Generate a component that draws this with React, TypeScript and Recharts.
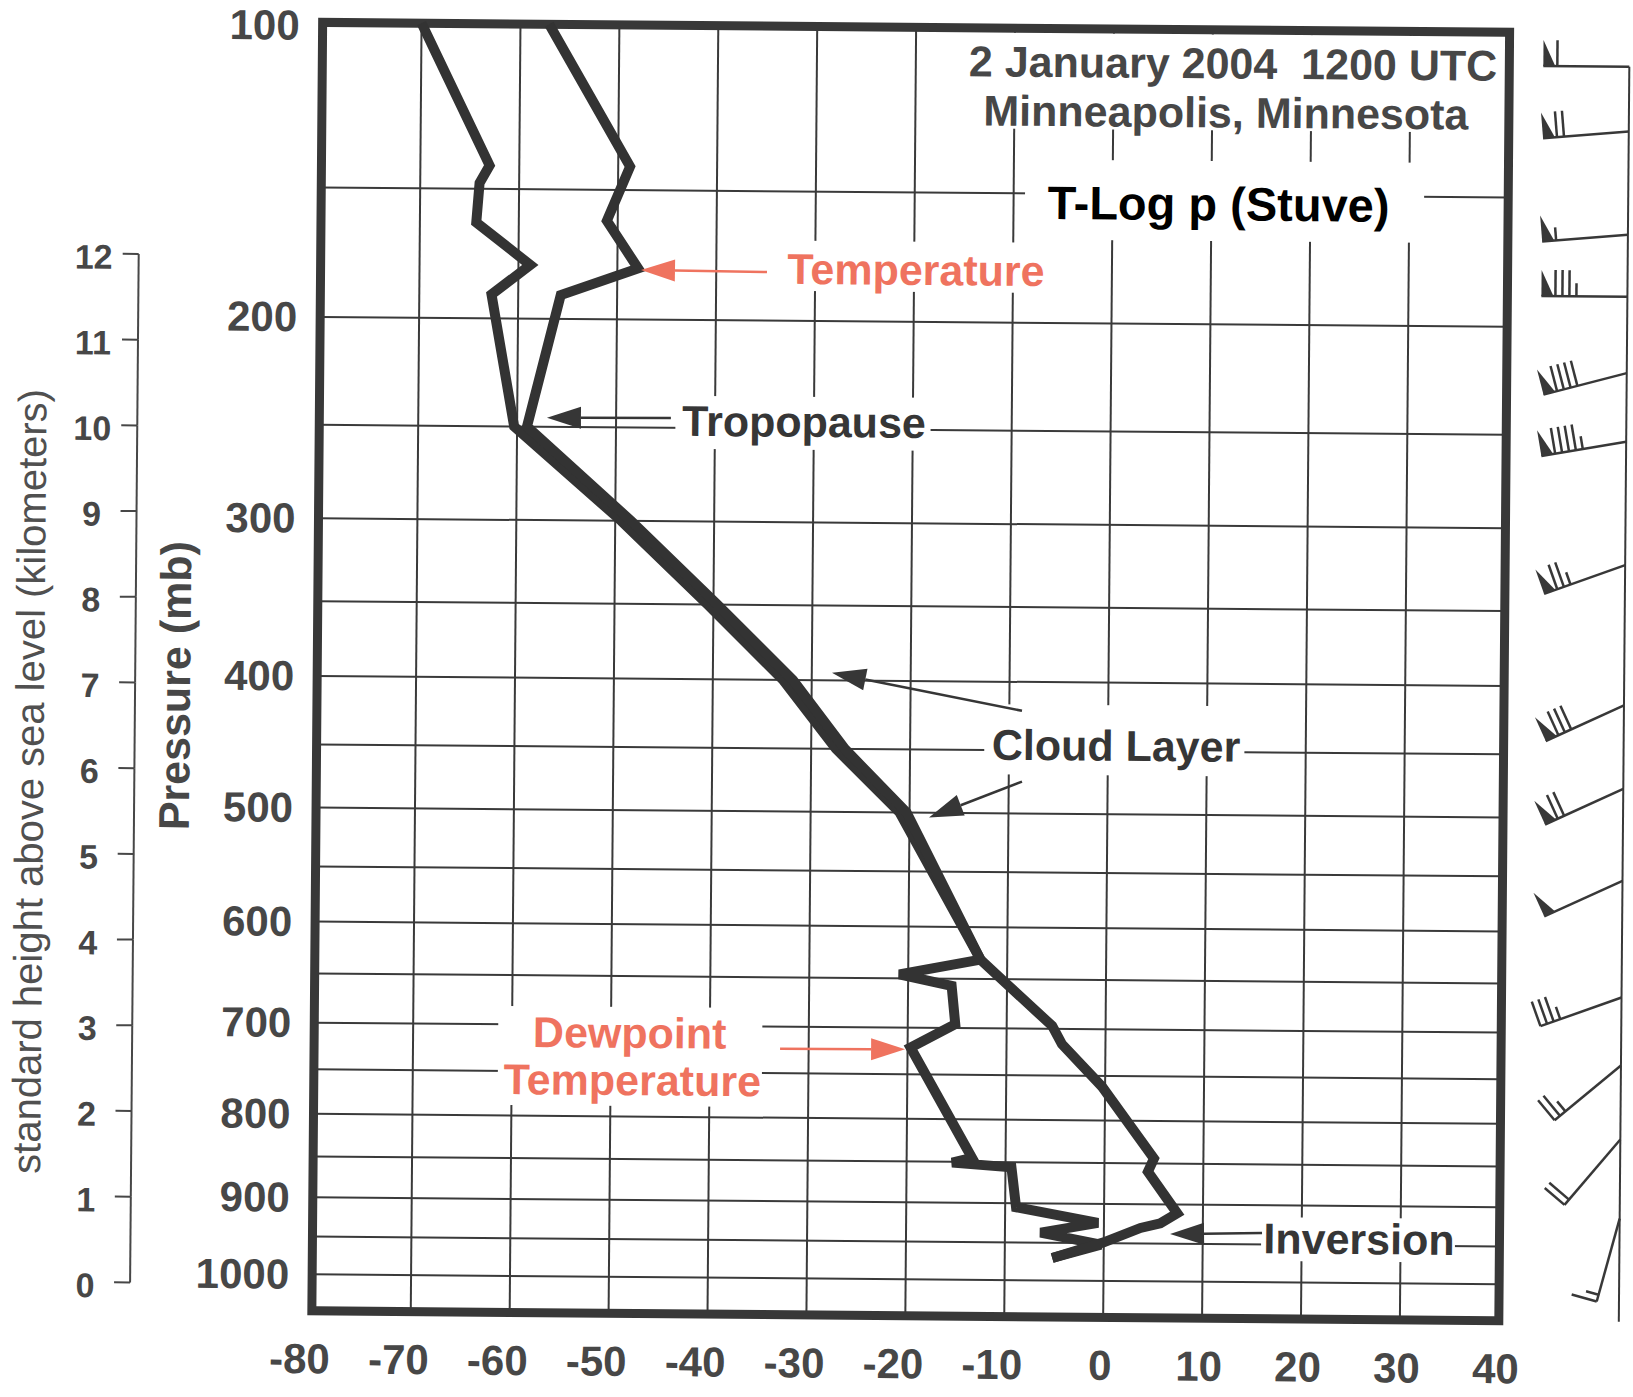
import React from "react";
import {
  ComposedChart,
  Line,
  Scatter,
  XAxis,
  YAxis,
  CartesianGrid,
  ReferenceArea,
  ReferenceLine,
  ReferenceDot,
} from "recharts";

// Stuve diagram: the vertical coordinate is p^kappa
const KAPPA = 0.286;
const toY = (p: number) => Math.pow(p, KAPPA);
const fromY = (v: number) => Math.pow(v, 1 / KAPPA);

// sounding (mb / deg C)
const TEMP_P = [100, 142, 161, 179, 190, 250, 300, 350, 400, 450, 500, 631, 654, 697, 716, 762, 844, 860, 911, 924, 930, 949, 970];
const TEMP_C = [-57.1, -48.8, -51.1, -47.9, -55.7, -59.0, -48.4, -39.6, -31.9, -26.6, -20.3, -12.7, -10.1, -5.4, -4.4, -0.3, 5.0, 4.4, 7.4, 5.7, 3.7, 0.0, -5.2];
const DEW_P = [100, 142, 148, 162, 178, 190, 250, 300, 350, 400, 450, 500, 631, 646, 657, 696, 721, 845, 851, 856, 905, 924, 937, 952, 970];
const DEW_C = [-70.0, -63.0, -64.0, -64.3, -58.8, -62.7, -60.3, -49.4, -40.6, -32.9, -27.5, -21.0, -12.7, -20.9, -15.6, -15.2, -19.7, -13.4, -15.4, -9.4, -8.9, -0.6, -6.4, -0.3, -5.2];

// winds (mb / deg / kt)
const WIND_P = [109, 128, 163, 187, 220, 253, 321, 413, 476, 553, 663, 734, 817, 913];
const WIND_DIR = [270, 265, 265, 270, 255, 260, 250, 245, 245, 245, 250, 230, 220, 195];
const WIND_KT = [60, 70, 55, 85, 90, 95, 75, 80, 70, 50, 35, 25, 20, 15];

// axes
const T_MIN = -80;
const T_MAX = 40;
const P_TOP = 100;
const P_BOTTOM = 1050;
const TEMP_TICKS = [-80, -70, -60, -50, -40, -30, -20, -10, 0, 10, 20, 30, 40];
const GRID_P = [100, 150, 200, 250, 300, 350, 400, 450, 500, 550, 600, 650, 700, 750, 800, 850, 900, 950, 1000];
const KM_TICKS = [0, 1, 2, 3, 4, 5, 6, 7, 8, 9, 10, 11, 12];
const KM0_P = 1013; // where the 0 km mark sits
const KM12_P = 175; // where the 12 km mark sits

// annotations (data units)
const SALMON = "#ef735f";
const DARK = "#363636";
const GRAY = "#474747";

const BOXES = [
  { t1: -16.5, t2: 39.5, p1: 101.2, p2: 128.7 },
  { t1: -8.85, t2: 31.5, p1: 138.5, p2: 166.6 },
  { t1: -34.1, t2: -6.1, p1: 167.8, p2: 187.5 },
  { t1: -44.0, t2: -18.2, p1: 234.3, p2: 260.6 },
  { t1: -12.5, t2: 13.8, p1: 416, p2: 468.8 },
  { t1: 15.9, t2: 35.5, p1: 915, p2: 971.5 },
  { t1: -61.4, t2: -34.7, p1: 681, p2: 788 },
];

const NOTES = [
  { text: "2 January 2004  1200 UTC", t: 12.07, p: 109.0, color: GRAY, size: 43 },
  { text: "Minneapolis, Minnesota", t: 11.39, p: 123.2, color: GRAY, size: 43 },
  { text: "T-Log p (Stuve)", t: 10.72, p: 153.1, color: "#000", size: 47 },
  { text: "Temperature", t: -19.81, p: 178.7, color: SALMON, size: 43 },
  { text: "Tropopause", t: -31.0, p: 246.5, color: DARK, size: 43 },
  { text: "Cloud Layer", t: 0.82, p: 445.9, color: DARK, size: 43 },
  { text: "Inversion", t: 25.8, p: 942, color: DARK, size: 43 },
  { text: "Dewpoint", t: -48.1, p: 708, color: SALMON, size: 43 },
  { text: "Temperature", t: -47.8, p: 759, color: SALMON, size: 43 },
];

const ARROWS = [
  { from: [-34.87, 180.0], to: [-47.61, 179.6], color: SALMON },
  { from: [-44.46, 245.2], to: [-56.99, 245.5], color: DARK },
  { from: [-8.72, 420.6], to: [-27.96, 394.8], color: DARK },
  { from: [-8.66, 474.3], to: [-18.03, 503.9], color: DARK },
  { from: [15.99, 935.3], to: [6.69, 937.6], color: DARK },
  { from: [-32.89, 723.6], to: [-20.25, 723.0], color: SALMON },
];

// layout
const W = 1633;
const H = 1397;
const PLOT_LEFT = 317;
const PLOT_TOP = 26.5;
const PLOT_RIGHT = 1504;
const PLOT_BOTTOM = 1315;
const P_AXIS_W = 200;
const X_AXIS_H = 60;
const FONT = "'Liberation Sans', Arial, Helvetica, sans-serif";
const INK = "#383838";

const kmAt = (p: number) => (12 * (toY(KM0_P) - toY(p))) / (toY(KM0_P) - toY(KM12_P));
const KM_DOMAIN = [kmAt(P_BOTTOM), kmAt(P_TOP)];
const KM_PX = (PLOT_BOTTOM - PLOT_TOP) / (KM_DOMAIN[1] - KM_DOMAIN[0]);
const KM_LINE_X = 135;

const BARB_DX = 120;
const STAFF = 86;
const BARB_LEN = 26;
const PENNANT_W = 12;
const BARB_GAP = 7;
const HEAD_LEN = 34;
const HEAD_HALF = 11;

const tempData = TEMP_P.map((p, i) => ({ t: TEMP_C[i], y: toY(p) }));
const dewData = DEW_P.map((p, i) => ({ t: DEW_C[i], y: toY(p) }));
const windData = WIND_P.map((p, i) => ({ t: T_MAX, y: toY(p), dir: WIND_DIR[i], kt: WIND_KT[i] }));

function PressureTick(props: any) {
  const { y, payload } = props;
  const p = Math.round(fromY(payload.value));
  if (p % 100 !== 0) return <g />;
  return (
    <text x={PLOT_LEFT - 23} y={p === P_TOP ? y + 3 : y} textAnchor="end" dominantBaseline="central" fontFamily={FONT} fontWeight="bold" fontSize={42} fill={GRAY}>
      {p}
    </text>
  );
}

function KmTick(props: any) {
  const { y, payload } = props;
  const v = payload.value;
  return (
    <g>
      <text x={90} y={y + 3} textAnchor="middle" dominantBaseline="central" fontFamily={FONT} fontWeight="bold" fontSize={34} fill={GRAY}>
        {v}
      </text>
      <line x1={KM_LINE_X - 16} y1={y} x2={KM_LINE_X} y2={y} stroke={GRAY} strokeWidth={2} />
      {v > 0 && <line x1={KM_LINE_X} y1={y} x2={KM_LINE_X} y2={y + KM_PX} stroke={GRAY} strokeWidth={2} />}
    </g>
  );
}

function TempTick(props: any) {
  const { x, payload } = props;
  const v = payload.value;
  return (
    <text x={x + (v < 0 ? -12 : -3)} y={PLOT_BOTTOM + 48} textAnchor="middle" dominantBaseline="central" fontFamily={FONT} fontWeight="bold" fontSize={42} fill={GRAY}>
      {v}
    </text>
  );
}

function PressureTitle() {
  return (
    <text transform="translate(190,691) rotate(-90)" textAnchor="middle" fontFamily={FONT} fontWeight="bold" fontSize={43} fill={GRAY}>
      Pressure (mb)
    </text>
  );
}

function HeightTitle() {
  return (
    <text transform="translate(44,788) rotate(-90)" textAnchor="middle" fontFamily={FONT} fontSize={40} fill="#505050">
      standard height above sea level (kilometers)
    </text>
  );
}

function WindBarb(props: any) {
  const { cx, cy, payload } = props;
  const rx = cx + BARB_DX;
  const a = (payload.dir * Math.PI) / 180;
  const ux = Math.sin(a);
  const uy = -Math.cos(a);
  const nx = -uy;
  const ny = ux;
  const tx = rx + ux * STAFF;
  const ty = cy + uy * STAFF;
  const at = (s: number, h: number) => [tx - ux * s + nx * h, ty - uy * s + ny * h];
  const parts: React.ReactNode[] = [];
  let kt = payload.kt;
  let s = 0;
  while (kt >= 50) {
    const p0 = at(s, 0);
    const p1 = at(s, BARB_LEN);
    const p2 = at(s + PENNANT_W, 0);
    parts.push(<polygon key={`f${s}`} points={`${p0} ${p1} ${p2}`} fill={INK} />);
    s += PENNANT_W + 2;
    kt -= 50;
  }
  while (kt >= 10) {
    const [x1, y1] = at(s, 0);
    const [x2, y2] = at(s, BARB_LEN);
    parts.push(<line key={`b${s}`} x1={x1} y1={y1} x2={x2} y2={y2} stroke={INK} strokeWidth={2.5} />);
    s += BARB_GAP;
    kt -= 10;
  }
  if (kt >= 5) {
    const [x1, y1] = at(s, 0);
    const [x2, y2] = at(s, BARB_LEN / 2);
    parts.push(<line key="h" x1={x1} y1={y1} x2={x2} y2={y2} stroke={INK} strokeWidth={2.5} />);
  }
  return (
    <g>
      <line x1={rx} y1={cy} x2={tx} y2={ty} stroke={INK} strokeWidth={2.5} />
      {parts}
    </g>
  );
}

function Arrow(props: any) {
  const { x1, y1, x2, y2, color } = props;
  const dx = x2 - x1;
  const dy = y2 - y1;
  const len = Math.hypot(dx, dy) || 1;
  const ux = dx / len;
  const uy = dy / len;
  const bx = x2 - ux * HEAD_LEN;
  const by = y2 - uy * HEAD_LEN;
  const pts = `${x2},${y2} ${bx - uy * HEAD_HALF},${by + ux * HEAD_HALF} ${bx + uy * HEAD_HALF},${by - ux * HEAD_HALF}`;
  return (
    <g>
      <line x1={x1} y1={y1} x2={bx} y2={by} stroke={color} strokeWidth={2.5} />
      <polygon points={pts} fill={color} />
    </g>
  );
}

export default function App() {
  return (
    <div style={{ position: "fixed", left: 0, top: 0, width: W, height: H, overflow: "hidden", background: "#fff" }}>
      <div style={{ width: W, height: H, transform: "rotate(0.48deg)", transformOrigin: `${W / 2}px ${H / 2}px` }}>
        <ComposedChart
          width={W}
          height={H}
          margin={{ top: PLOT_TOP, right: W - PLOT_RIGHT, bottom: H - PLOT_BOTTOM - X_AXIS_H, left: 0 }}
        >
          <XAxis
            dataKey="t"
            type="number"
            domain={[T_MIN, T_MAX]}
            ticks={TEMP_TICKS}
            interval={0}
            height={X_AXIS_H}
            axisLine={false}
            tickLine={false}
            tick={(p: any) => <TempTick {...p} />}
          />
          <YAxis
            yAxisId="p"
            dataKey="y"
            type="number"
            reversed
            domain={[toY(P_TOP), toY(P_BOTTOM)]}
            ticks={GRID_P.map(toY)}
            interval={0}
            width={P_AXIS_W}
            axisLine={false}
            tickLine={false}
            tick={(p: any) => <PressureTick {...p} />}
            label={<PressureTitle />}
          />
          <YAxis
            yAxisId="km"
            type="number"
            domain={KM_DOMAIN}
            allowDataOverflow
            ticks={KM_TICKS}
            interval={0}
            width={PLOT_LEFT - P_AXIS_W}
            axisLine={false}
            tickLine={false}
            tick={(p: any) => <KmTick {...p} />}
            label={<HeightTitle />}
          />
          <CartesianGrid yAxisId="p" stroke="#3a3a3a" strokeWidth={2} />

          {BOXES.map((b, i) => (
            <ReferenceArea
              key={`box${i}`}
              yAxisId="p"
              x1={b.t1}
              x2={b.t2}
              y1={toY(b.p1)}
              y2={toY(b.p2)}
              fill="#ffffff"
              fillOpacity={1}
              stroke="none"
            />
          ))}

          <Line
            data={dewData}
            yAxisId="p"
            dataKey="y"
            type="linear"
            stroke="#333333"
            strokeWidth={10}
            strokeLinejoin="miter"
            strokeMiterlimit={2.6}
            dot={false}
            activeDot={false}
            isAnimationActive={false}
          />
          <Line
            data={tempData}
            yAxisId="p"
            dataKey="y"
            type="linear"
            stroke="#333333"
            strokeWidth={10}
            strokeLinejoin="miter"
            strokeMiterlimit={2.6}
            dot={false}
            activeDot={false}
            isAnimationActive={false}
          />

          <ReferenceLine
            yAxisId="p"
            ifOverflow="visible"
            segment={[
              { x: T_MAX, y: toY(WIND_P[0]) },
              { x: T_MAX, y: toY(P_BOTTOM) },
            ]}
            shape={(p: any) => (
              <line x1={p.x1 + BARB_DX} y1={p.y1} x2={p.x2 + BARB_DX} y2={p.y2} stroke={INK} strokeWidth={2} />
            )}
          />
          <Scatter data={windData} yAxisId="p" shape={(p: any) => <WindBarb {...p} />} isAnimationActive={false} />

          {ARROWS.map((a, i) => (
            <ReferenceLine
              key={`arrow${i}`}
              yAxisId="p"
              ifOverflow="visible"
              segment={[
                { x: a.from[0], y: toY(a.from[1]) },
                { x: a.to[0], y: toY(a.to[1]) },
              ]}
              shape={(p: any) => <Arrow x1={p.x1} y1={p.y1} x2={p.x2} y2={p.y2} color={a.color} />}
            />
          ))}

          {NOTES.map((n, i) => (
            <ReferenceDot
              key={`note${i}`}
              yAxisId="p"
              x={n.t}
              y={toY(n.p)}
              ifOverflow="visible"
              shape={(p: any) => (
                <text
                  x={p.cx}
                  y={p.cy}
                  textAnchor="middle"
                  dominantBaseline="central"
                  fontFamily={FONT}
                  fontWeight="bold"
                  fontSize={n.size}
                  fill={n.color}
                  style={{ whiteSpace: "pre" }}
                >
                  {n.text}
                </text>
              )}
            />
          ))}

          <ReferenceArea
            yAxisId="p"
            x1={T_MIN}
            x2={T_MAX}
            y1={toY(P_TOP)}
            y2={toY(P_BOTTOM)}
            fill="none"
            stroke={INK}
            strokeWidth={9}
            ifOverflow="visible"
          />
        </ComposedChart>
      </div>
    </div>
  );
}
